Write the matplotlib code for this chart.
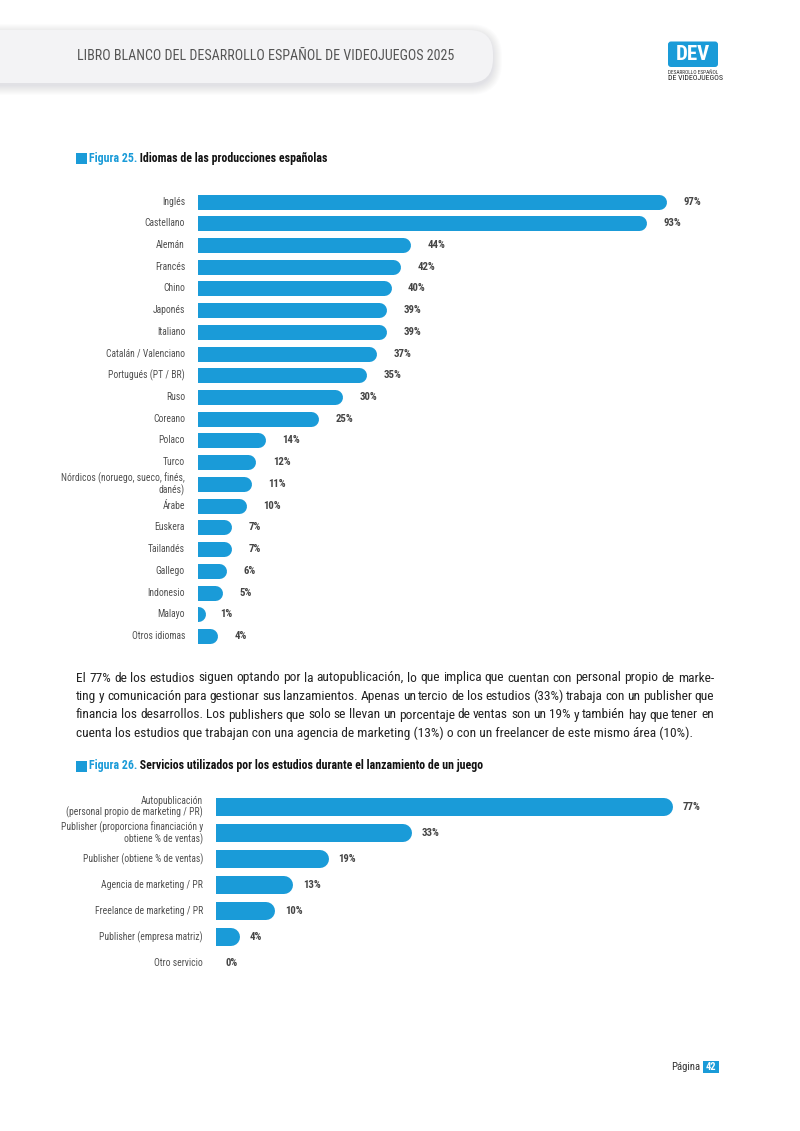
import matplotlib
matplotlib.use('Agg')
import matplotlib.pyplot as plt
from matplotlib.patches import FancyBboxPatch, Rectangle

plt.rcParams['font.family'] = ['Roboto Condensed', 'Roboto', 'DejaVu Sans']

BLUE = '#1a9bd8'
W, H = 800, 1131

# Figura 25
idiomas = ['Inglés', 'Castellano', 'Alemán', 'Francés', 'Chino', 'Japonés', 'Italiano',
           'Catalán / Valenciano', 'Portugués (PT / BR)', 'Ruso', 'Coreano', 'Polaco', 'Turco',
           'Nórdicos (noruego, sueco, finés,\ndanés)', 'Árabe', 'Euskera', 'Tailandés',
           'Gallego', 'Indonesio', 'Malayo', 'Otros idiomas']
idiomas_pct = [97, 93, 44, 42, 40, 39, 39, 37, 35, 30, 25, 14, 12, 11, 10, 7, 7, 6, 5, 1, 4]

# Figura 26
servicios = ['Autopublicación\n(personal propio de marketing / PR)',
             'Publisher (proporciona financiación y\nobtiene % de ventas)',
             'Publisher (obtiene % de ventas)', 'Agencia de marketing / PR',
             'Freelance de marketing / PR', 'Publisher (empresa matriz)', 'Otro servicio']
servicios_pct = [77, 33, 19, 13, 10, 4, 0]

texto = ['El 77% de los estudios siguen optando por la autopublicación, lo que implica que cuentan con personal propio de marke-',
         'ting y comunicación para gestionar sus lanzamientos. Apenas un tercio de los estudios (33%) trabaja con un publisher que',
         'financia los desarrollos. Los publishers que solo se llevan un porcentaje de ventas son un 19% y también hay que tener en',
         'cuenta los estudios que trabajan con una agencia de marketing (13%) o con un freelancer de este mismo área (10%).']

fig = plt.figure(figsize=(8, 11.31), dpi=100)

# page layer in pixel coordinates
bg = fig.add_axes([0, 0, 1, 1])
bg.set_xlim(0, W)
bg.set_ylim(H, 0)
bg.axis('off')
renderer = fig.canvas.get_renderer()


def size_for(s, width, **kw):
    # font size that makes s about width pixels wide
    t = bg.text(0, 0, s, fontsize=10, **kw)
    w = t.get_window_extent(renderer).width
    t.remove()
    return 10 * width / w


LAB_FS = size_for('Catalán / Valenciano', 69) * 1.15
VAL_FS = size_for('97%', 17, fontweight='bold') * 1.05
BODY_FS = size_for(texto[-1], 610)
HEAD_FS = size_for('LIBRO BLANCO DEL DESARROLLO ESPAÑOL DE VIDEOJUEGOS 2025', 376)
TIT_FS = size_for('Figura 25. Idiomas de las producciones españolas', 239, fontweight='bold')


def px_axes(x0, y0, x1, y1):
    return fig.add_axes([x0 / W, 1 - y1 / H, (x1 - x0) / W, (y1 - y0) / H])


def bar_chart(ax, cats, vals, xmax, bar_px, unit_px, lab_gap, val_gap):
    n = len(cats)
    ax.set_xlim(0, xmax)
    ax.set_ylim(n - 0.5, -0.5)
    ax.axis('off')
    r = bar_px / 2 / unit_px
    for i, (c, v) in enumerate(zip(cats, vals)):
        if v > 0:
            # round-capped line, left cap clipped by the axes at x=0
            ax.plot([0, v - r], [i, i], color=BLUE, lw=bar_px * 0.72,
                    solid_capstyle='round')
        ax.text(-lab_gap / unit_px, i, c, ha='right', va='center', ma='right',
                fontsize=LAB_FS, color='#505050', clip_on=False, linespacing=1.05)
        ax.text(v + val_gap / unit_px, i, f'{v}%', ha='left', va='center',
                fontsize=VAL_FS, fontweight='bold', color='#454545', clip_on=False)


# chart 1
ax1 = px_axes(198, 201.5 - 10.86, 198 + 4.825 * 100, 636 + 10.86)
bar_chart(ax1, idiomas, idiomas_pct, 100, 15, 4.825, 13, 17)

# chart 2
ax2 = px_axes(216, 794, 216 + 5.93 * 80, 976)
bar_chart(ax2, servicios, servicios_pct, 80, 18, 5.93, 13, 10)

# header banner with soft shadow
for k in range(10):
    bg.add_patch(FancyBboxPatch((-40 - k, 30 - k + 3), 533 + 2 * k, 53 + 2 * k,
                                boxstyle='round,pad=0,rounding_size=%d' % (24 + k),
                                fc='#a0a0b0', ec='none', alpha=0.03))
bg.add_patch(FancyBboxPatch((-40, 30), 533, 53, boxstyle='round,pad=0,rounding_size=24',
                            fc='#f3f3f5', ec='none'))
bg.text(77, 56.5, 'LIBRO BLANCO DEL DESARROLLO ESPAÑOL DE VIDEOJUEGOS 2025',
        fontsize=HEAD_FS, color='#555555', va='center', ha='left')

# logo
bg.add_patch(FancyBboxPatch((668, 41.5), 50, 25.5, boxstyle='round,pad=0,rounding_size=3',
                            fc=BLUE, ec='none'))
bg.text(693, 54.5, 'DEV', fontsize=15, fontweight='bold', color='white',
        ha='center', va='center')
bg.text(668, 72.8, 'DESARROLLO ESPAÑOL', fontsize=size_for('DESARROLLO ESPAÑOL', 51),
        color='#333333', va='center')
bg.text(668, 78.5, 'DE VIDEOJUEGOS', fontsize=size_for('DE VIDEOJUEGOS', 55),
        color='#222222', va='center')


def fig_title(y, num, title):
    bg.add_patch(Rectangle((76, y - 5.5), 11, 11, fc=BLUE, ec='none'))
    t = bg.text(89, y, num, fontsize=TIT_FS, fontweight='bold', color=BLUE, va='center')
    bg.annotate(' ' + title, xy=(1, 0.5), xycoords=t, va='center', ha='left',
                fontsize=TIT_FS, fontweight='bold', color='#111111')


fig_title(158.5, 'Figura 25.', 'Idiomas de las producciones españolas')
fig_title(766, 'Figura 26.', 'Servicios utilizados por los estudios durante el lanzamiento de un juego')

# justified paragraph
for j, line in enumerate(texto):
    y = 678 + 18.5 * j
    if j == len(texto) - 1:
        bg.text(76, y, line, fontsize=BODY_FS, color='#222222', va='center')
        continue
    words = line.split(' ')
    ts = [bg.text(0, y, w, fontsize=BODY_FS, color='#222222', va='center') for w in words]
    ws = [t.get_window_extent(renderer).width for t in ts]
    gap = (714 - 76 - sum(ws)) / (len(words) - 1)
    x = 76
    for t, w in zip(ts, ws):
        t.set_x(x)
        x += w + gap

# footer
bg.text(700, 1067, 'Página', fontsize=size_for('Página', 29), color='#333333',
        ha='right', va='center')
bg.add_patch(Rectangle((702.5, 1061), 16, 11.5, fc=BLUE, ec='none'))
bg.text(710.5, 1067, '42', fontsize=7.5, fontweight='bold', color='white',
        ha='center', va='center')

fig.savefig('out.png', dpi=100)
